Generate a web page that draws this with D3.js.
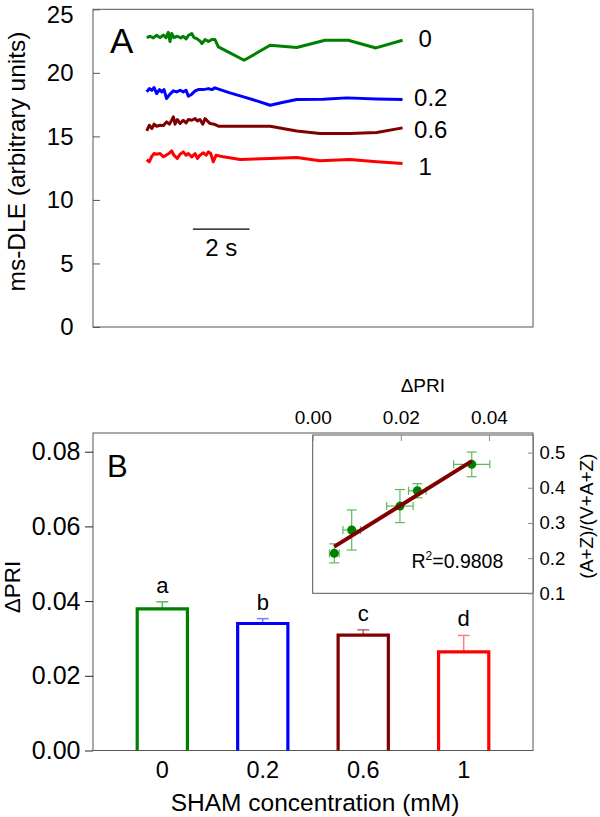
<!DOCTYPE html>
<html><head><meta charset="utf-8">
<script src="https://cdn.jsdelivr.net/npm/d3@7"></script>
<style>
body{margin:0;background:#fff}
svg{display:block}
text{font-family:"Liberation Sans",Arial,Helvetica,sans-serif;fill:#000}
</style>
</head><body>
<svg id="chart" width="600" height="817"></svg>
<script>
// ---------- Panel A data ----------
const traceLabels = ["0", "0.2", "0.6", "1"];
const trace0_t = [0,0.12,0.23,0.35,0.47,0.59,0.68,0.76,0.82,0.88,0.96,1.08,1.20,1.29,1.39,1.48,1.59,1.67,1.77,1.88,1.95,2.06,2.18,2.30,2.41,2.53,2.94,3.44,4.36,5.30,6.30,7.12,8.10,9.04];
const trace0_v = [22.77,22.88,22.75,22.96,22.77,22.98,22.77,23.19,22.46,23.09,22.77,22.88,22.75,22.88,22.67,22.96,23.09,22.77,22.69,22.51,22.30,22.62,22.46,22.62,22.62,22.04,21.57,20.99,22.17,21.99,22.56,22.56,21.96,22.56];
const trace1_t = [0,0.09,0.18,0.26,0.35,0.45,0.53,0.61,0.70,0.82,0.94,1.06,1.18,1.29,1.39,1.47,1.59,1.71,1.82,2.00,2.18,2.30,2.41,2.59,2.94,3.42,3.89,4.36,4.83,5.30,6.24,7.07,8.13,9.04];
const trace1_v = [18.50,18.76,18.63,18.84,18.37,18.68,18.50,18.68,17.98,18.32,18.58,18.50,18.63,18.50,18.63,18.16,18.32,18.58,18.68,18.68,18.76,18.68,18.82,18.68,18.42,18.11,17.79,17.45,17.69,17.90,17.92,18.03,17.95,17.90];
const trace2_t = [0,0.09,0.18,0.26,0.35,0.47,0.59,0.70,0.80,0.88,0.94,1.00,1.08,1.18,1.29,1.39,1.47,1.59,1.71,1.79,1.88,1.98,2.06,2.14,2.24,2.38,2.53,3.42,4.36,5.30,6.12,7.18,8.13,9.04];
const trace2_v = [15.43,15.88,15.62,15.96,15.80,15.88,15.85,16.14,15.96,16.27,16.54,15.96,16.33,16.01,16.27,16.06,16.33,16.27,16.40,16.22,16.33,15.96,16.40,16.22,16.01,15.96,15.80,15.80,15.80,15.43,15.22,15.22,15.30,15.67];
const trace3_t = [0,0.09,0.18,0.26,0.35,0.47,0.59,0.68,0.78,0.88,0.96,1.08,1.18,1.29,1.39,1.47,1.59,1.71,1.79,1.88,2.00,2.10,2.18,2.26,2.35,2.45,2.71,3.30,4.36,5.30,6.12,7.18,8.13,9.04];
const trace3_v = [13.18,13.00,13.44,13.65,13.60,13.65,13.39,13.52,13.65,13.86,13.52,13.26,13.60,13.78,13.52,13.65,13.39,13.65,13.26,13.52,13.71,13.52,13.78,13.65,13.00,13.52,13.39,13.18,13.26,13.34,13.08,13.18,13.00,12.87];
const yTicksA = [0, 5, 10, 15, 20, 25];
const scaleBarStart = 1.63, scaleBarLength = 2, scaleBarLevel = 7.7;
const scaleBarLabel = "2 s";

// ---------- Panel B data ----------
const categories = ["0", "0.2", "0.6", "1"];
const dPRI = [0.0379, 0.0340, 0.0309, 0.0264];
const dPRIerr = [0.0019, 0.0013, 0.0014, 0.0044];
const sigLetters = ["a", "b", "c", "d"];
const yTicksB = [0, 0.02, 0.04, 0.06, 0.08];

// ---------- Inset data ----------
const insetX = [0.0049, 0.00885, 0.0198, 0.02375, 0.0361];
const insetXerr = [0.0011, 0.0020, 0.0030, 0.0020, 0.0041];
const insetY = [0.2136, 0.280, 0.348, 0.3915, 0.4665];
const insetYerr = [0.027, 0.057, 0.047, 0.020, 0.035];
const insetXTicks = [0, 0.02, 0.04];
const insetYTicks = [0.1, 0.2, 0.3, 0.4, 0.5];
const r2Text = "0.9808";

// ---------- styles ----------
const colors = ["#008000", "#0000ff", "#800000", "#ff0000"];
const lightColors = ["#5cb85c", "#7f7fff", "#b86a6a", "#ff7f7f"];
const frameColor = "#555";
const FONT = '"Liberation Sans",Arial,sans-serif';

const svg = d3.select("#chart");

// ================= Panel A =================
const A = {l: 93, r: 533, t: 9.3, b: 327};
const xA = d3.scaleLinear().domain([-1.9, 13.65]).range([A.l, A.r]);
const yA = d3.scaleLinear().domain([0, 25]).range([A.b, A.t]);

svg.append("rect").attr("x", A.l).attr("y", A.t).attr("width", A.r - A.l).attr("height", A.b - A.t)
  .attr("fill", "none").attr("stroke", frameColor).attr("stroke-width", 1);

const axA = svg.append("g").attr("transform", `translate(${A.l},0)`)
  .call(d3.axisLeft(yA).tickValues(yTicksA).tickSizeInner(-7).tickSizeOuter(0).tickPadding(19.5).tickFormat(d3.format("d")));
axA.select(".domain").remove();
axA.selectAll("line").attr("stroke", frameColor);
axA.selectAll("text").attr("font-size", 24).attr("fill", "#000").style("font-family", FONT);
axA.selectAll(".tick text").filter(d => d === 25).attr("dy", "0.53em");

svg.append("text").attr("transform", "translate(25,161.5) rotate(-90)")
  .attr("text-anchor", "middle").attr("font-size", 24.5)
  .text("ms-DLE (arbitrary units)");

svg.append("text").attr("x", 110).attr("y", 52.7).attr("font-size", 35).text("A");

const traces = [[trace0_t, trace0_v], [trace1_t, trace1_v], [trace2_t, trace2_v], [trace3_t, trace3_v]];
const lineA = d3.line().x(d => xA(d[0])).y(d => yA(d[1]));
const labelNudge = [-1.7, -2, 1, 3];
traces.forEach((tr, i) => {
  const pts = tr[0].map((t, j) => [t, tr[1][j]]);
  svg.append("path").attr("d", lineA(pts)).attr("fill", "none")
    .attr("stroke", colors[i]).attr("stroke-width", 3).attr("stroke-linejoin", "round");
  const last = pts[pts.length - 1];
  const lab = traceLabels[i];
  svg.append("text")
    .attr("x", xA(last[0]) + (lab.length === 1 ? 16 : 11.5))
    .attr("y", yA(last[1]) + labelNudge[i])
    .attr("dy", "0.36em").attr("font-size", 24)
    .text(lab);
});

svg.append("line").attr("x1", xA(scaleBarStart)).attr("x2", xA(scaleBarStart + scaleBarLength))
  .attr("y1", yA(scaleBarLevel)).attr("y2", yA(scaleBarLevel)).attr("stroke", "#000").attr("stroke-width", 1.2);
svg.append("text").attr("x", xA(scaleBarStart + scaleBarLength / 2)).attr("y", yA(scaleBarLevel) + 27)
  .attr("text-anchor", "middle").attr("font-size", 24).text(scaleBarLabel);

// ================= Panel B =================
const B = {l: 93, r: 533, t: 433, b: 750.5};
const xB = d3.scaleBand().domain(categories).range([B.l, B.r]).paddingInner(0.5).paddingOuter(0.44);
const yB = d3.scaleLinear().domain([0, 0.085]).range([B.b, B.t]);

svg.append("rect").attr("x", B.l).attr("y", B.t).attr("width", B.r - B.l).attr("height", B.b - B.t)
  .attr("fill", "none").attr("stroke", frameColor).attr("stroke-width", 1);

const axB = svg.append("g").attr("transform", `translate(${B.l},0)`)
  .call(d3.axisLeft(yB).tickValues(yTicksB).tickSizeInner(8).tickSizeOuter(0).tickPadding(4.5).tickFormat(d3.format(".2f")));
axB.select(".domain").remove();
axB.selectAll("line").attr("stroke", "#222");
axB.selectAll("text").attr("font-size", 25).attr("fill", "#000").style("font-family", FONT);

svg.append("text").attr("transform", "translate(20,587) rotate(-90)")
  .attr("text-anchor", "middle").attr("font-size", 22.5).text("ΔPRI");

svg.append("text").attr("x", 107).attr("y", 476.7).attr("font-size", 31).text("B");

// bars
const bw = xB.bandwidth();
categories.forEach((c, i) => {
  const x0 = xB(c);
  const yTop = yB(dPRI[i]);
  const yErr = yB(dPRI[i] + dPRIerr[i]);
  const cx = x0 + bw / 2;
  svg.append("line").attr("x1", cx).attr("x2", cx).attr("y1", yTop).attr("y2", yErr)
    .attr("stroke", lightColors[i]).attr("stroke-width", 1.5);
  svg.append("line").attr("x1", cx - 6).attr("x2", cx + 6).attr("y1", yErr).attr("y2", yErr)
    .attr("stroke", lightColors[i]).attr("stroke-width", 1.5);
  const p = d3.path();
  p.moveTo(x0, yB(0)); p.lineTo(x0, yTop); p.lineTo(x0 + bw, yTop); p.lineTo(x0 + bw, yB(0));
  svg.append("path").attr("d", p.toString()).attr("fill", "none")
    .attr("stroke", colors[i]).attr("stroke-width", 3.2).attr("stroke-linejoin", "miter");
  svg.append("text").attr("x", cx).attr("y", yErr - 9).attr("text-anchor", "middle")
    .attr("font-size", 22).text(sigLetters[i]);
  svg.append("text").attr("x", cx).attr("y", 778).attr("text-anchor", "middle")
    .attr("font-size", 23.5).text(c);
});

svg.append("text").attr("x", 315).attr("y", 811).attr("text-anchor", "middle")
  .attr("font-size", 24.5).text("SHAM concentration (mM)");

// ================= Inset =================
const I = {l: 312.7, r: 533, t: 435, b: 593.3};
const xI = d3.scaleLinear().domain([0, 0.05]).range([I.l, I.r]);
const yI = d3.scaleLinear().domain([0.1, 0.55]).range([I.b, I.t]);

svg.append("rect").attr("x", I.l).attr("y", I.t).attr("width", I.r - I.l).attr("height", I.b - I.t)
  .attr("fill", "#fff").attr("stroke", frameColor).attr("stroke-width", 1);

const axIT = svg.append("g").attr("transform", `translate(0,${I.t})`)
  .call(d3.axisTop(xI).tickValues(insetXTicks).tickSizeInner(-6).tickSizeOuter(0).tickPadding(10.7).tickFormat(d3.format(".2f")));
axIT.select(".domain").remove();
axIT.selectAll("line").attr("stroke", "#888");
axIT.selectAll("text").attr("font-size", 19).attr("fill", "#000").style("font-family", FONT);

const axIR = svg.append("g").attr("transform", `translate(${I.r},0)`)
  .call(d3.axisRight(yI).tickValues(insetYTicks).tickSizeInner(-5).tickSizeOuter(0).tickPadding(6.5).tickFormat(d3.format(".1f")));
axIR.select(".domain").remove();
axIR.selectAll("line").attr("stroke", "#888");
axIR.selectAll("text").attr("font-size", 18.5).attr("fill", "#000").style("font-family", FONT);

svg.append("text").attr("x", (I.l + I.r) / 2).attr("y", 391.7).attr("text-anchor", "middle")
  .attr("font-size", 19).text("ΔPRI");
svg.append("text").attr("transform", `translate(593,${(I.t + I.b) / 2 + 2}) rotate(-90)`)
  .attr("text-anchor", "middle").attr("font-size", 19).text("(A+Z)/(V+A+Z)");

insetX.forEach((xv, i) => {
  const yv = insetY[i];
  const g = svg.append("g").attr("stroke", "#5cb85c").attr("stroke-width", 1.2);
  g.append("line").attr("x1", xI(xv)).attr("x2", xI(xv)).attr("y1", yI(yv - insetYerr[i])).attr("y2", yI(yv + insetYerr[i]));
  g.append("line").attr("x1", xI(xv) - 5).attr("x2", xI(xv) + 5).attr("y1", yI(yv - insetYerr[i])).attr("y2", yI(yv - insetYerr[i]));
  g.append("line").attr("x1", xI(xv) - 5).attr("x2", xI(xv) + 5).attr("y1", yI(yv + insetYerr[i])).attr("y2", yI(yv + insetYerr[i]));
  g.append("line").attr("x1", xI(xv - insetXerr[i])).attr("x2", xI(xv + insetXerr[i])).attr("y1", yI(yv)).attr("y2", yI(yv));
  g.append("line").attr("x1", xI(xv - insetXerr[i])).attr("x2", xI(xv - insetXerr[i])).attr("y1", yI(yv) - 4).attr("y2", yI(yv) + 4);
  g.append("line").attr("x1", xI(xv + insetXerr[i])).attr("x2", xI(xv + insetXerr[i])).attr("y1", yI(yv) - 4).attr("y2", yI(yv) + 4);
});

const mx = d3.mean(insetX), my = d3.mean(insetY);
const sxy = d3.sum(insetX.map((x, i) => (x - mx) * (insetY[i] - my)));
const sxx = d3.sum(insetX.map(x => (x - mx) * (x - mx)));
const slope = sxy / sxx, intercept = my - slope * mx;
const xmin = d3.min(insetX), xmax = d3.max(insetX);

insetX.forEach((xv, i) => {
  svg.append("circle").attr("cx", xI(xv)).attr("cy", yI(insetY[i])).attr("r", 4.5).attr("fill", "#008000");
});
svg.append("line").attr("x1", xI(xmin)).attr("x2", xI(xmax))
  .attr("y1", yI(intercept + slope * xmin)).attr("y2", yI(intercept + slope * xmax))
  .attr("stroke", "#800000").attr("stroke-width", 4);

const r2 = svg.append("text").attr("x", 411.5).attr("y", 568.3).attr("font-size", 19.5);
r2.append("tspan").text("R");
r2.append("tspan").attr("font-size", 12).attr("dy", -8).text("2");
r2.append("tspan").attr("dy", 8).text("=" + r2Text);
</script>
</body></html>
